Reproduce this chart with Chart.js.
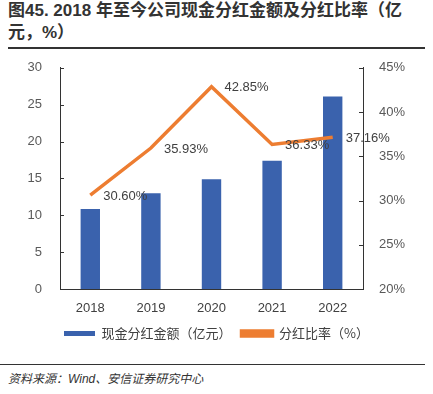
<!DOCTYPE html>
<html>
<head>
<meta charset="utf-8">
<script src="https://cdn.jsdelivr.net/npm/chart.js@4"></script>
<style>
  body { margin: 0; background: #fff; font-family: "Liberation Sans", "Noto Sans CJK SC", sans-serif; }
  #title { position: absolute; left: 8px; top: 0; width: 420px; font-size: 17px; font-weight: bold; line-height: 22px; color: #333; }
  #rule1 { position: absolute; left: 8px; top: 47px; width: 417px; border-top: 2px solid #333; }
  #wrap { position: absolute; left: 0; top: 50px; width: 433px; height: 300px; }
  #rule2 { position: absolute; left: 0; top: 364px; width: 425px; border-top: 1px solid #333; }
  #source { position: absolute; left: 8px; top: 369px; font-size: 12px; font-style: italic; color: #333; }
</style>
</head>
<body>
<div id="title">图45. 2018 年至今公司现金分红金额及分红比率（亿元，%）</div>
<div id="rule1"></div>
<div id="wrap"><canvas id="c"></canvas></div>
<div id="rule2"></div>
<div id="source">资料来源：Wind、安信证券研究中心</div>
<script>
  const years = ["2018", "2019", "2020", "2021", "2022"]
  const dividend = [10.85, 13.0, 14.9, 17.4, 26.1]
  const payoutRatio = [30.60, 35.93, 42.85, 36.33, 37.16]

  // percentage labels sit just right of each line point
  const lineLabels = {
    id: "lineLabels",
    afterDatasetsDraw(chart) {
      const ctx = chart.ctx
      const meta = chart.getDatasetMeta(1)
      ctx.save()
      ctx.font = "13px 'Liberation Sans'"
      ctx.fillStyle = "#404040"
      ctx.textAlign = "left"
      ctx.textBaseline = "middle"
      meta.data.forEach(function (pt, i) {
        ctx.fillText(payoutRatio[i].toFixed(2) + "%", pt.x + 13, pt.y + 1)
      })
      ctx.restore()
    },
  }

  // inward tick marks on both value axes
  const innerTicks = {
    id: "innerTicks",
    afterDraw(chart) {
      const ctx = chart.ctx
      ctx.save()
      ctx.strokeStyle = "#333"
      ctx.lineWidth = 1
      const y = chart.scales.y
      const y1 = chart.scales.y1
      y.ticks.forEach(function (t) {
        let p = Math.round(y.getPixelForValue(t.value)) + 0.5
        ctx.beginPath()
        ctx.moveTo(y.right, p)
        ctx.lineTo(y.right + 4, p)
        ctx.stroke()
      })
      y1.ticks.forEach(function (t) {
        let p = Math.round(y1.getPixelForValue(t.value)) + 0.5
        ctx.beginPath()
        ctx.moveTo(y1.left - 4, p)
        ctx.lineTo(y1.left, p)
        ctx.stroke()
      })
      ctx.restore()
    },
  }

  new Chart(document.getElementById("c"), {
    data: {
      labels: years,
      datasets: [
        {
          type: "bar",
          label: "现金分红金额（亿元）",
          data: dividend,
          backgroundColor: "#3a62ad",
          barPercentage: 0.64,
          categoryPercentage: 0.5,
          yAxisID: "y",
          order: 2,
        },
        {
          type: "line",
          label: "分红比率（%）",
          data: payoutRatio,
          borderColor: "#ed7d31",
          backgroundColor: "#ed7d31",
          borderWidth: 3.5,
          pointRadius: 0,
          tension: 0,
          yAxisID: "y1",
          order: 1,
        },
      ],
    },
    options: {
      responsive: true,
      maintainAspectRatio: false,
      animation: false,
      layout: { padding: { top: 10, right: 0, left: 0, bottom: 0 } },
      plugins: {
        legend: {
          position: "bottom",
          labels: {
            boxWidth: 31,
            boxHeight: 5,
            padding: 10,
            color: "#404040",
            font: { size: 13, family: "'Noto Sans CJK SC'" },
            sort: function (a, b) { return a.datasetIndex - b.datasetIndex },
          },
        },
        tooltip: { enabled: false },
      },
      scales: {
        x: {
          grid: { display: false },
          border: { color: "#333" },
          ticks: { color: "#404040", font: { size: 13 }, padding: 4 },
          afterFit: function (s) { s.height = 28 },
        },
        y: {
          position: "left",
          min: 0,
          max: 30,
          grid: { display: false },
          border: { color: "#333" },
          ticks: { stepSize: 5, color: "#595959", font: { size: 13 }, padding: 10 },
          afterFit: function (s) { s.width = 60 },
        },
        y1: {
          position: "right",
          min: 20,
          max: 45,
          grid: { display: false },
          border: { color: "#333" },
          ticks: {
            stepSize: 5,
            color: "#595959",
            font: { size: 13 },
            padding: 8,
            callback: function (v) { return v + "%" },
          },
          afterFit: function (s) { s.width = 70 },
        },
      },
    },
    plugins: [lineLabels, innerTicks],
  })
</script>
</body>
</html>
